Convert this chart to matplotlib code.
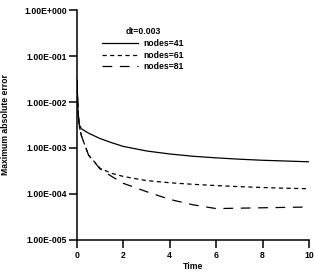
import matplotlib
matplotlib.use("Agg")
import matplotlib.pyplot as plt

plt.rcParams['font.family'] = ['Liberation Sans', 'DejaVu Sans']
plt.rcParams['font.weight'] = 'bold'
plt.rcParams['lines.scale_dashes'] = False

time = [0, 0.05, 0.1, 0.2, 0.5, 1, 1.5, 2, 3, 4, 5, 6, 7, 8, 9, 10]
err_41 = [3e-2, 6e-3, 3.2e-3, 2.6e-3, 2.1e-3, 1.6e-3, 1.3e-3, 1.08e-3, 8.6e-4, 7.4e-4,
          6.6e-4, 6.1e-4, 5.7e-4, 5.4e-4, 5.2e-4, 5.0e-4]
err_61 = [3e-2, 6e-3, 3e-3, 1.8e-3, 7e-4, 3.6e-4, 2.8e-4, 2.4e-4, 1.95e-4, 1.75e-4,
          1.62e-4, 1.52e-4, 1.44e-4, 1.38e-4, 1.33e-4, 1.3e-4]
err_81 = [3e-2, 6e-3, 3e-3, 1.8e-3, 7e-4, 3.5e-4, 2.4e-4, 1.7e-4, 1.12e-4, 7.6e-5,
          5.8e-5, 4.8e-5, 4.9e-5, 5.0e-5, 5.1e-5, 5.2e-5]
labels = ["nodes=41", "nodes=61", "nodes=81"]
xticks = [0, 2, 4, 6, 8, 10]
yticks = [1e0, 1e-1, 1e-2, 1e-3, 1e-4, 1e-5]
ytick_labels = ["1.00E+000", "1.00E-001", "1.00E-002", "1.00E-003", "1.00E-004", "1.00E-005"]

FS = 6.2
fig = plt.figure(figsize=(3.14, 2.72), dpi=100)
ax = fig.add_axes([0.245, 0.118, 0.739, 0.845])

ax.plot(time, err_41, color='black', lw=0.9, ls='-', label=labels[0])
ax.plot(time, err_61, color='black', lw=0.9, dashes=(3, 2.5), label=labels[1])
ax.plot(time, err_81, color='black', lw=0.9, dashes=(7, 5.5), label=labels[2])

ax.set_yscale('log')
ax.set_xlim(0, 10)
ax.set_ylim(1e-5, 1e0)
ax.set_xticks(xticks)
ax.set_xticklabels([str(t) for t in xticks])
ax.set_yticks(yticks)
ax.set_yticklabels(ytick_labels)
ax.yaxis.set_minor_locator(matplotlib.ticker.NullLocator())

for s in ['top', 'right']:
    ax.spines[s].set_visible(False)
for s in ['left', 'bottom']:
    ax.spines[s].set_linewidth(1.1)
ax.tick_params(axis='both', direction='out', length=5.8, width=1.1, labelsize=FS)
ax.tick_params(axis='x', pad=2.5)
ax.tick_params(axis='y', pad=1.5)
for lab in ax.get_xticklabels() + ax.get_yticklabels():
    lab.set_fontweight('bold')

ax.set_xlabel("Time", fontsize=FS, fontweight='bold')
ax.set_ylabel("Maximum absolute error", fontsize=FS, fontweight='bold')
ax.xaxis.set_label_coords(0.5, -0.097)
ax.yaxis.set_label_coords(-0.289, 0.5)

leg = ax.legend(title="dt=0.003", loc='upper left', bbox_to_anchor=(0.09, 0.943),
                frameon=False, fontsize=FS, title_fontsize=FS, handlelength=4.2,
                handletextpad=0.6, labelspacing=0.3, borderpad=0)
leg.get_title().set_fontweight('bold')

fig.savefig("out.png", dpi=100)
